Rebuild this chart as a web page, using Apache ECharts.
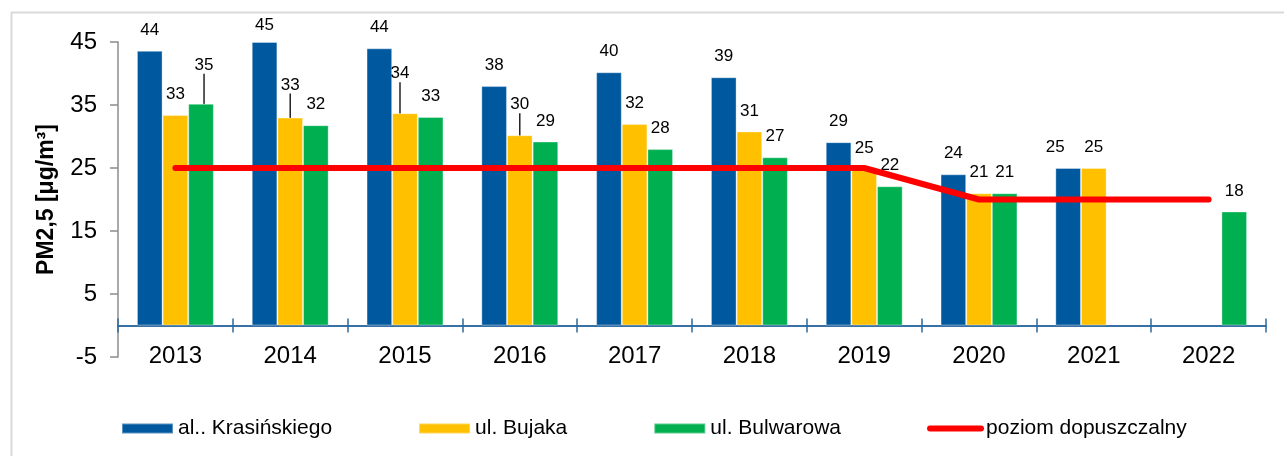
<!DOCTYPE html>
<html>
<head>
<meta charset="utf-8">
<script src="https://cdn.jsdelivr.net/npm/echarts@6/dist/echarts.min.js"></script>
<style>html,body{margin:0;padding:0;background:#fff;}#c{width:1284px;height:456px;}</style>
</head>
<body>
<div id="c"></div>
<script>
const categories = ['2013', '2014', '2015', '2016', '2017', '2018', '2019', '2020', '2021', '2022'];
const krasinskiego = [43.6, 45.0, 44.0, 38.0, 40.2, 39.4, 29.1, 24.0, 25.0, null];
const bujaka = [33.4, 33.0, 33.7, 30.2, 32.0, 30.8, 24.8, 21.0, 25.0, null];
const bulwarowa = [35.2, 31.8, 33.1, 29.2, 28.0, 26.7, 22.1, 21.0, null, 18.1];
const limit = [25, 25, 25, 25, 25, 25, 25, 20, 20, 20];
const seriesNames = ['al.. Krasińskiego', 'ul. Bujaka', 'ul. Bulwarowa', 'poziom dopuszczalny'];
const yTicks = { min: -5, max: 45, interval: 10 };

// label adjustments (label placement only)
const labelShift = [
  { 1: { dy: 4 }, 8: { dx: -13 } },
  { 1: { dy: -12, line: true }, 2: { dx: -5, dy: -19, line: true }, 3: { dy: -10, line: true } },
  { 0: { dx: 3, dy: -18, line: true } }
];

const FONT = 'Liberation Sans, Arial, sans-serif';
const colors = ['#00599F', '#FFC000', '#00B050', '#FF0000'];

function barSeries(idx, values) {
  const shifts = labelShift[idx];
  return {
    name: seriesNames[idx],
    type: 'bar',
    barGap: 0,
    barCategoryGap: '33%',
    itemStyle: { color: colors[idx], borderColor: 'rgba(255,255,255,0.35)', borderWidth: 1 },
    label: {
      show: true, position: 'top', distance: 12,
      fontFamily: FONT, fontSize: 17, color: '#000',
      formatter: p => Math.round(p.value)
    },
    labelLine: { show: false, lineStyle: { color: '#000', width: 1.3 } },
    labelLayout: function (p) {
      const s = shifts[p.dataIndex];
      return s ? { dx: s.dx || 0, dy: s.dy || 0 } : {};
    },
    data: values.map((v, i) => ({
      value: v,
      labelLine: { show: !!(shifts[i] && shifts[i].line), lineStyle: { color: '#000', width: 1.3 } }
    }))
  };
}

const chart = echarts.init(document.getElementById('c'), null, { renderer: 'canvas' });
chart.setOption({
  animation: false,
  textStyle: { fontFamily: FONT },
  graphic: [{
    type: 'rect', left: 9, top: 10, z: -10,
    shape: { width: 1300, height: 500 },
    style: { fill: 'none', stroke: '#D9D9D9', lineWidth: 2 }
  }],
  grid: { left: 118, right: 18, top: 42, bottom: 99 },
  legend: {
    left: 116, top: 413,
    itemWidth: 51, itemHeight: 10, itemGap: 86,
    textStyle: { fontFamily: FONT, fontSize: 21, color: '#000' },
    data: [
      { name: seriesNames[0], icon: 'rect' },
      { name: seriesNames[1], icon: 'rect' },
      { name: seriesNames[2], icon: 'rect' },
      {
        name: seriesNames[3],
        itemStyle: { color: 'rgba(0,0,0,0)', borderWidth: 0, opacity: 0 },
        lineStyle: { color: colors[3], width: 6, cap: 'round' }
      }
    ]
  },
  xAxis: [{
    type: 'category', data: categories,
    axisLine: { onZero: true, lineStyle: { color: '#2E6AA0', width: 1.5 } },
    axisTick: { show: true, length: 7, lineStyle: { color: '#2E6AA0', width: 1.5 } },
    axisLabel: { fontFamily: FONT, fontSize: 24, color: '#000', margin: -13 }
  }, {
    type: 'category', data: categories, position: 'bottom',
    axisLine: { onZero: true, onZeroAxisIndex: 0, lineStyle: { color: '#2E6AA0', width: 1.5 } },
    axisTick: { show: true, inside: true, length: 7, lineStyle: { color: '#2E6AA0', width: 1.5 } },
    axisLabel: { show: false }
  }],
  yAxis: {
    type: 'value', min: yTicks.min, max: yTicks.max, interval: yTicks.interval,
    name: 'PM2,5 [μg/m³]', nameLocation: 'middle', nameGap: 60,
    nameTextStyle: { fontFamily: FONT, fontSize: 23, fontWeight: 'bold', color: '#000' },
    axisLine: { show: true, lineStyle: { color: '#8C8C8C', width: 1.5 } },
    axisTick: { show: true, length: 8, lineStyle: { color: '#8C8C8C', width: 1.5 } },
    axisLabel: { fontFamily: FONT, fontSize: 24, color: '#000', margin: 21 },
    splitLine: { show: false }
  },
  series: [
    barSeries(0, krasinskiego),
    barSeries(1, bujaka),
    barSeries(2, bulwarowa),
    {
      name: seriesNames[3], type: 'line', data: limit,
      symbol: 'none', z: 5,
      lineStyle: { color: colors[3], width: 6, cap: 'round', join: 'round' },
      itemStyle: { color: colors[3] }
    }
  ]
});
</script>
</body>
</html>
